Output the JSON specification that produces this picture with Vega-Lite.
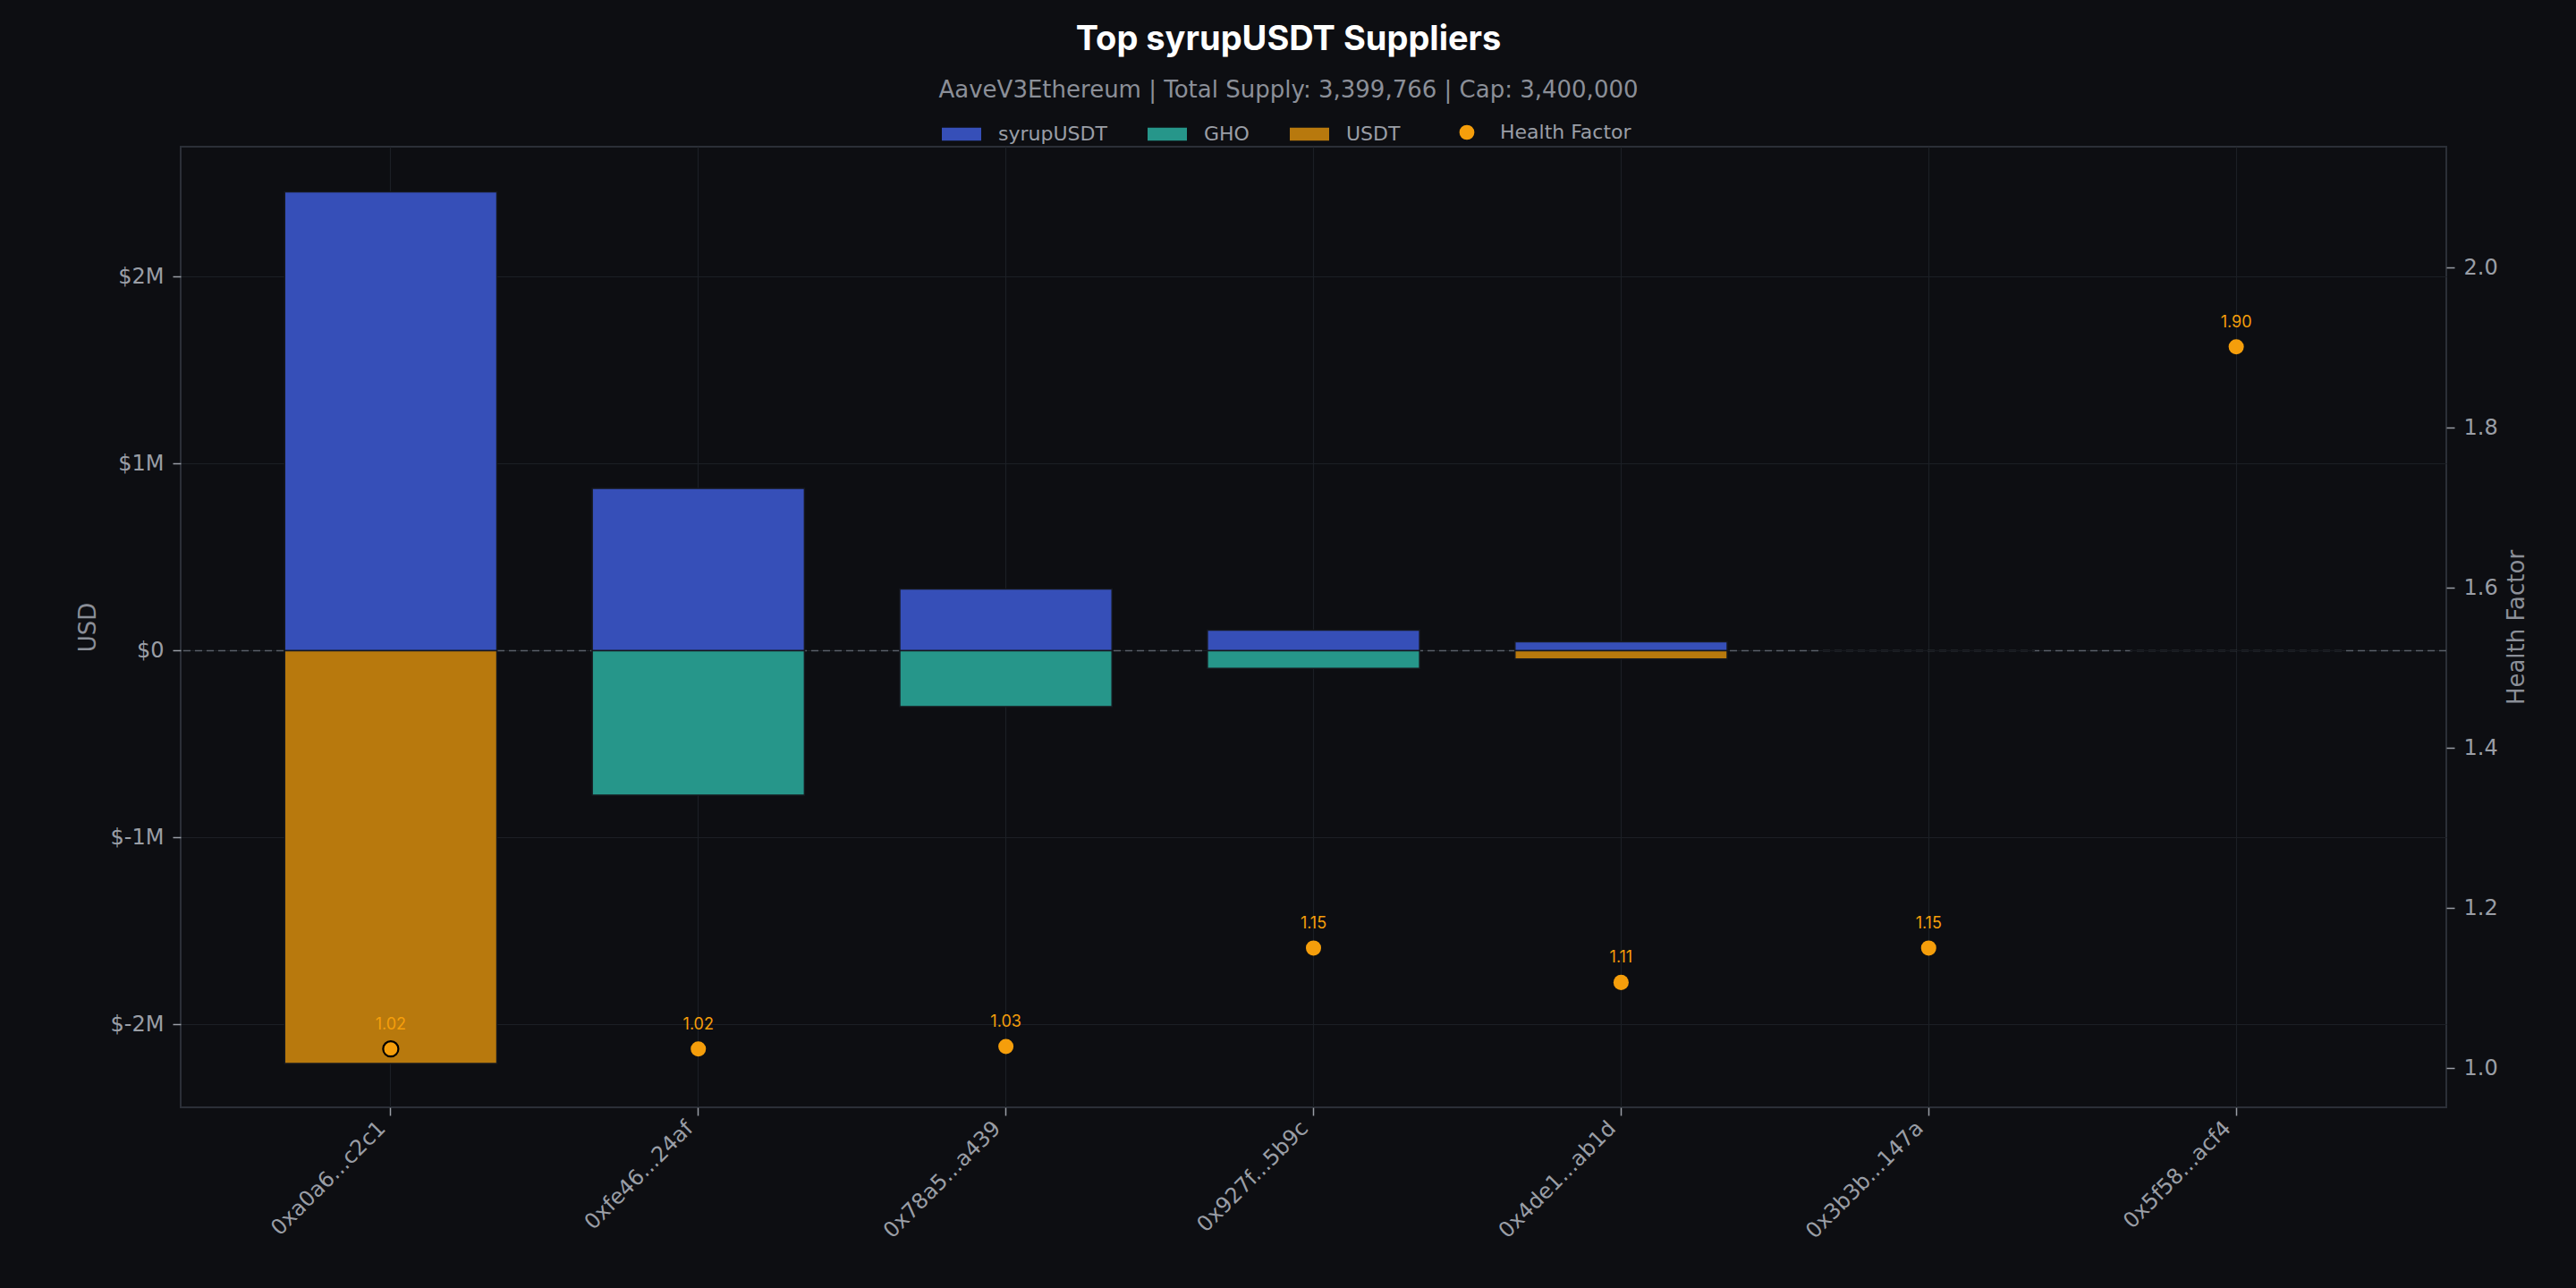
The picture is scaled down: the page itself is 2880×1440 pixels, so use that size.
{
  "$schema": "https://vega.github.io/schema/vega-lite/v6.json",
  "width": 2533,
  "height": 1074,
  "autosize": {"type": "none"},
  "padding": {"left": 202, "top": 164, "right": 145, "bottom": 202},
  "background": "#0d0e12",
  "title": {
    "text": "Top syrupUSDT Suppliers",
    "subtitle": "AaveV3Ethereum | Total Supply: 3,399,766 | Cap: 3,400,000",
    "anchor": "middle",
    "frame": "group",
    "dx": -28,
    "offset": 14,
    "font": "Inter",
    "fontSize": 38,
    "fontWeight": "bold",
    "color": "#ffffff",
    "subtitleFont": "DejaVu Sans",
    "subtitleFontSize": 26,
    "subtitleColor": "#8b8f98",
    "subtitlePadding": 24
  },
  "datasets": {
    "bars": [
      {"address": "0xa0a6...c2c1", "asset": "syrupUSDT", "usd": 2454000},
      {"address": "0xa0a6...c2c1", "asset": "USDT", "usd": -2208000},
      {"address": "0xfe46...24af", "asset": "syrupUSDT", "usd": 868000},
      {"address": "0xfe46...24af", "asset": "GHO", "usd": -773000},
      {"address": "0x78a5...a439", "asset": "syrupUSDT", "usd": 330000},
      {"address": "0x78a5...a439", "asset": "GHO", "usd": -299000},
      {"address": "0x927f...5b9c", "asset": "syrupUSDT", "usd": 110000},
      {"address": "0x927f...5b9c", "asset": "GHO", "usd": -95000},
      {"address": "0x4de1...ab1d", "asset": "syrupUSDT", "usd": 47000},
      {"address": "0x4de1...ab1d", "asset": "USDT", "usd": -45000},
      {"address": "0x3b3b...147a", "asset": "syrupUSDT", "usd": 0},
      {"address": "0x5f58...acf4", "asset": "syrupUSDT", "usd": 0}
    ],
    "hf": [
      {"address": "0xa0a6...c2c1", "hf": 1.024},
      {"address": "0xfe46...24af", "hf": 1.024},
      {"address": "0x78a5...a439", "hf": 1.027},
      {"address": "0x927f...5b9c", "hf": 1.15},
      {"address": "0x4de1...ab1d", "hf": 1.107},
      {"address": "0x3b3b...147a", "hf": 1.15},
      {"address": "0x5f58...acf4", "hf": 1.901}
    ]
  },
  "config": {
    "view": {"stroke": "#2b2f37", "strokeWidth": 2},
    "axis": {
      "labelFont": "DejaVu Sans",
      "labelFontSize": 24,
      "labelColor": "#9a9ea6",
      "titleFont": "DejaVu Sans",
      "titleFontSize": 26,
      "titleColor": "#8b8f98",
      "titleFontWeight": "normal",
      "tickColor": "#9a9ea6",
      "tickSize": 9,
      "tickWidth": 1.5,
      "domain": false,
      "gridColor": "#1c1f25",
      "gridWidth": 1.2,
      "labelPadding": 10
    }
  },
  "resolve": {"scale": {"y": "independent"}, "axis": {"y": "independent"}},
  "layer": [
    {
      "layer": [
        {
          "data": {"values": [{}]},
          "mark": {"type": "rule", "strokeDash": [8, 5], "color": "#5a5f69", "strokeWidth": 1.5},
          "encoding": {"y": {"datum": 0, "type": "quantitative"}}
        },
        {
          "data": {"name": "bars"},
          "mark": {"type": "bar", "stroke": "#16181e", "strokeWidth": 1.5},
          "encoding": {
            "x": {
              "field": "address",
              "type": "nominal",
              "sort": null,
              "scale": {
                "domain": ["0xa0a6...c2c1", "0xfe46...24af", "0x78a5...a439", "0x927f...5b9c", "0x4de1...ab1d", "0x3b3b...147a", "0x5f58...acf4"],
                "paddingInner": 0.31,
                "paddingOuter": 0.338
              },
              "axis": {
                "title": null,
                "labelAngle": -45,
                "labelAlign": "right",
                "labelBaseline": "top",
                "labelPadding": 2,
                "labelOffset": -18,
                "grid": true,
                "bandPosition": 0.5
              }
            },
            "y": {
              "field": "usd",
              "type": "quantitative",
              "stack": "zero",
              "scale": {"domain": [-2443000, 2696000], "nice": false, "zero": false},
              "axis": {
                "title": "USD",
                "orient": "left",
                "values": [-2000000, -1000000, 0, 1000000, 2000000],
                "labelExpr": "datum.value == 0 ? '$0' : '$' + (datum.value / 1000000) + 'M'",
                "grid": true,
                "titlePadding": 12
              }
            },
            "color": {
              "field": "asset",
              "type": "nominal",
              "scale": {
                "domain": ["syrupUSDT", "GHO", "USDT"],
                "range": ["#364fb8", "#26968a", "#b8790d"]
              },
              "legend": {
                "orient": "none",
                "legendX": 851,
                "legendY": -36,
                "direction": "horizontal",
                "title": null,
                "labelFont": "DejaVu Sans",
                "labelFontSize": 22,
                "labelColor": "#9a9ea6",
                "symbolSize": 1936,
                "symbolType": "M-1,-0.33H1V0.33H-1Z",
                "symbolStrokeWidth": 0,
                "symbolOpacity": 1,
                "labelOffset": 19,
                "columnPadding": 45
              }
            }
          }
        }
      ]
    },
    {
      "data": {"name": "hf"},
      "layer": [
        {
          "mark": {"type": "point", "filled": true, "size": 290, "opacity": 1, "color": "#f59e0b", "stroke": "#000000"},
          "encoding": {
            "x": {"field": "address", "type": "nominal", "sort": null},
            "y": {
              "field": "hf",
              "type": "quantitative",
              "scale": {"domain": [0.951, 2.151], "nice": false, "zero": false},
              "axis": {
                "title": "Health Factor",
                "orient": "right",
                "values": [1.0, 1.2, 1.4, 1.6, 1.8, 2.0],
                "format": ".1f",
                "grid": false,
                "titleAngle": 270,
                "titleBaseline": "top",
                "titlePadding": 8
              }
            },
            "shape": {
              "datum": "Health Factor",
              "type": "nominal",
              "scale": {"domain": ["Health Factor"], "range": ["circle"]},
              "legend": {
                "orient": "none",
                "legendX": 1427,
                "legendY": -27,
                "direction": "horizontal",
                "title": null,
                "labelFont": "DejaVu Sans",
                "labelFontSize": 22,
                "labelColor": "#9a9ea6",
                "symbolSize": 280,
                "symbolFillColor": "#f59e0b",
                "symbolStrokeWidth": 0,
                "symbolOpacity": 1,
                "labelOffset": 26
              }
            },
            "strokeWidth": {
              "condition": {"test": "datum.address === '0xa0a6...c2c1'", "value": 2.2},
              "value": 0
            }
          }
        },
        {
          "mark": {"type": "text", "dy": -27, "fontSize": 18, "font": "Inter", "color": "#f59e0b"},
          "encoding": {
            "x": {"field": "address", "type": "nominal", "sort": null},
            "y": {"field": "hf", "type": "quantitative"},
            "text": {"field": "hf", "type": "quantitative", "format": ".2f"}
          }
        }
      ]
    }
  ]
}
